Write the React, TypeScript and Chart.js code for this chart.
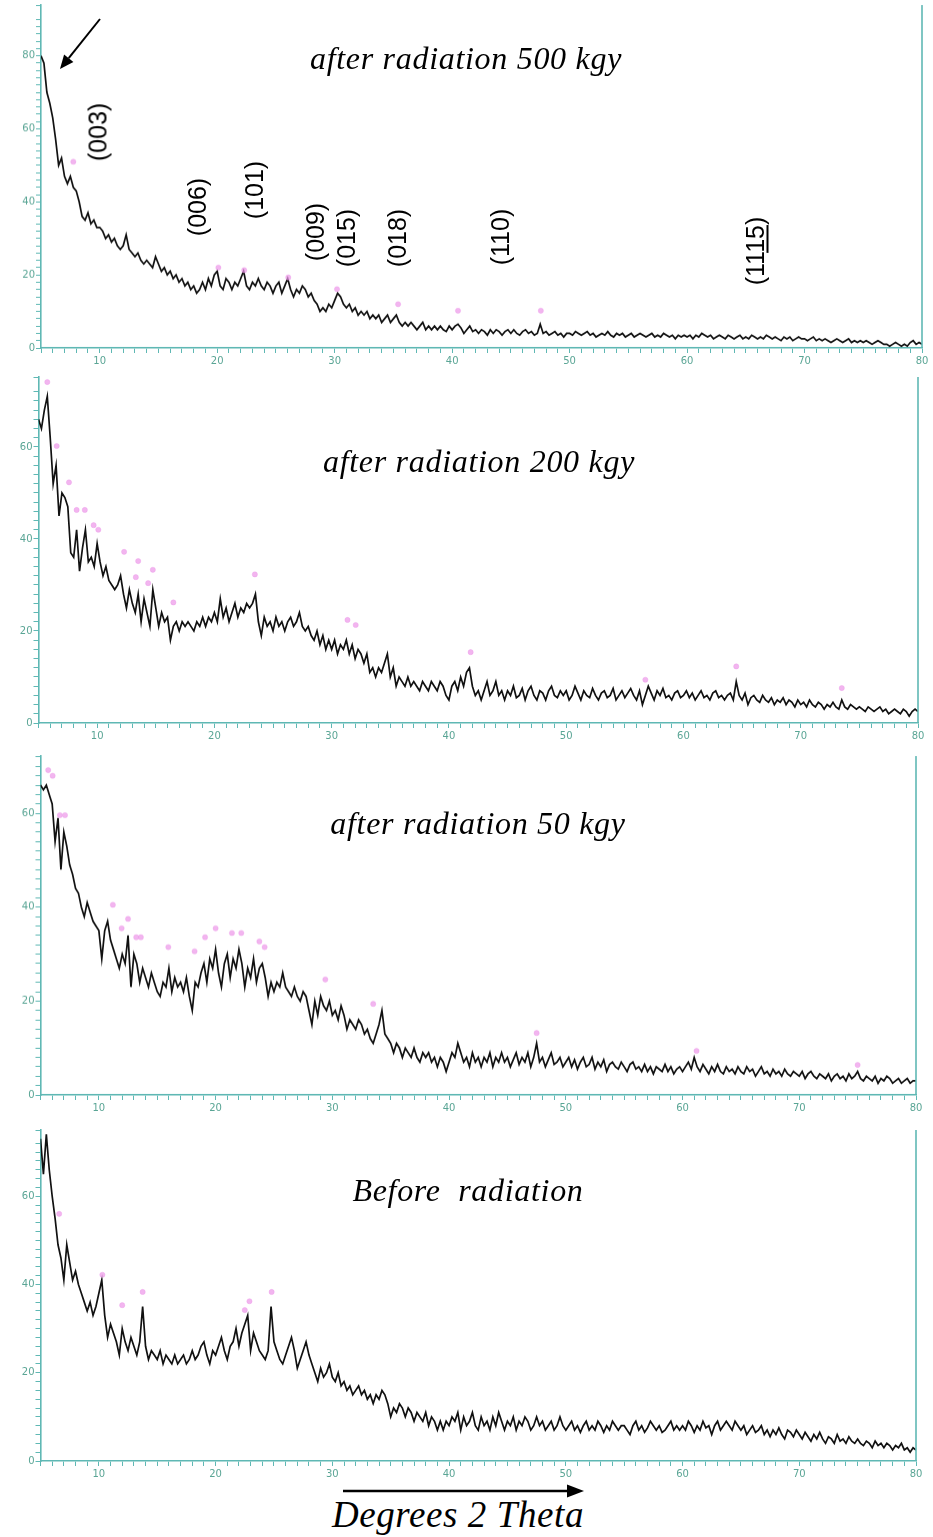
import React, { useEffect, useRef } from "react";
import { Chart, registerables } from "chart.js";
Chart.register(...registerables);

// ---- data -------------------------------------------------------------
const X_START = 5;
const X_STEP = 0.25;
const X_MIN = 5;
const X_MAX = 80;
const X_TICK_LABELS = [10, 20, 30, 40, 50, 60, 70, 80];
const Y_TICK_LABELS = [0, 20, 40, 60, 80];

const TITLES = ["after radiation 500 kgy", "after radiation 200 kgy", "after radiation 50 kgy", "Before  radiation"];
const AXIS_TITLE = "Degrees 2 Theta";
const HKL_LABELS = ["(003)", "(006)", "(101)", "(009)", "(015)", "(018)", "(110)", "(11", "15", ")"];

// intensities, one value every 0.25 deg from 5 to 80 deg 2θ
const I_500 = [
  80, 78, 70, 67, 63, 57, 50, 52, 47, 45, 47, 44, 43, 40, 36, 35, 37, 34, 35, 33,
  33, 32, 30, 31, 29, 30, 28, 27, 28, 31, 27, 26, 25, 26, 24, 23, 24, 23, 22, 25,
  23, 21, 22, 20, 21, 19, 20, 18, 19, 17, 18, 16, 17, 15, 16, 18, 16, 19, 17, 20,
  21, 17, 16, 19, 18, 16, 18, 17, 19, 21, 17, 16, 18, 17, 19, 17, 16, 18, 17, 15,
  17, 18, 15, 17, 19, 16, 14, 16, 15, 17, 16, 14, 15, 13, 12, 10, 11, 10, 12, 11,
  13, 15, 14, 12, 11, 12, 10, 11, 9, 10, 9, 10, 8, 9, 8, 9, 7, 8, 9, 7,
  8, 9, 7, 6, 7, 6, 7, 6, 5, 6, 7, 5, 6, 5, 6, 5, 6, 5, 4.5, 6,
  5, 6, 6.5, 5.5, 4, 5, 6, 4.5, 5, 4, 5, 4.5, 3.5, 5, 4, 5, 4.5, 3.5, 4.5, 5,
  4, 5, 4, 3.5, 4.5, 5, 4, 4.5, 3.5, 4, 6.5, 4, 4.5, 3.5, 4, 4.5, 3.5, 4, 3, 4,
  4, 3.5, 4.5, 4, 3.5, 4, 4.5, 3.5, 4, 3, 3.5, 4, 3.5, 4.5, 3.5, 3, 4, 3.5, 4, 3,
  3.5, 4, 3, 3.5, 4, 3.5, 3, 3.5, 4, 3, 3.5, 3, 4, 3.5, 3, 3.5, 2.5, 3.5, 3, 3.5,
  3, 3.5, 2.5, 3.5, 3, 4, 3.5, 3, 3.5, 2.5, 3, 3.5, 3, 2.5, 3.5, 3, 2.5, 3, 3.5, 2.5,
  3, 2.5, 3.5, 3, 2.5, 3, 2.5, 3.5, 3, 2.5, 3, 2.5, 2, 3, 2.5, 3, 2, 2.5, 3, 2.5,
  2.5, 2, 2.5, 3, 2, 2.5, 2, 2.5, 2, 1.5, 2, 2.5, 2, 1.5, 2, 2.5, 1.5, 2, 1.5, 2,
  1.5, 2, 1.5, 1, 1.5, 2, 1.5, 1, 1, 0.5, 1, 1.5, 1, 0.5, 1, 0.5, 1.5, 2, 1, 1.5,
  1,
];

const I_200 = [
  66, 64, 68, 71, 62, 52, 56, 45, 50, 49, 47, 37, 36, 42, 33, 38, 42, 35, 36, 34,
  39, 35, 32, 34, 31, 30, 29, 30, 32, 28, 25, 29, 26, 24, 28, 22, 27, 24, 21, 29,
  25, 21, 24, 22, 23, 18, 21, 22, 20, 22, 21, 22, 21, 20, 22, 21, 23, 21, 23, 22,
  24, 22, 27, 23, 25, 22, 24, 26, 23, 25, 24, 26, 25, 26, 28, 22, 19, 23, 21, 22,
  20, 23, 21, 22, 20, 22, 23, 21, 22, 24, 21, 20, 21, 19, 18, 20, 17, 19, 16, 18,
  16, 18, 15, 17, 16, 18, 15, 17, 14, 16, 15, 13, 15, 11, 12, 10, 12, 11, 13, 15,
  10, 12, 8, 10, 9, 8, 10, 8, 9, 8, 7, 9, 8, 7, 9, 8, 7, 9, 8, 6,
  5, 8, 9, 7, 10, 8, 11, 12, 8, 6, 7, 5, 7, 9, 6, 7, 9, 6, 7, 5,
  7, 6, 8, 5.5, 6, 7.5, 5, 7, 8, 6, 5, 7, 6.5, 5, 7, 8, 6, 5.5, 7, 6,
  7, 5, 6, 8, 6.5, 5, 7, 6, 5.5, 7.5, 6, 5, 6.5, 7, 5.5, 6, 7.5, 5, 6, 7,
  5.5, 6.5, 7.5, 6, 5, 7, 4, 6, 8, 6.5, 5, 7, 6, 7.5, 5.5, 6, 5, 6.5, 7, 5.5,
  6, 7, 5.5, 6.5, 5, 6, 7, 5.5, 6, 5, 6.5, 7, 5.5, 6, 5, 6, 6.5, 5, 9, 6,
  5, 6.5, 4, 5.5, 6, 5, 4.5, 6, 5, 4.5, 5.5, 4, 5, 4.5, 5.5, 4, 5, 4.5, 3.5, 5,
  4, 4.5, 3.5, 5, 4, 3.5, 4.5, 4, 3, 4, 3.5, 4.5, 3.5, 3, 5, 3.5, 3, 4, 3.5, 3,
  3.5, 3, 2.5, 3.5, 3, 2.5, 3, 3.5, 2.5, 3, 2, 2.5, 3, 2.5, 2, 3, 2.5, 1.5, 2.5, 3,
  2.5,
];

const I_50 = [
  66, 65, 66, 64, 62, 54, 59, 48, 56, 53, 49, 47, 44, 43, 40, 38, 41, 39, 37, 36,
  35, 29, 35, 37, 33, 31, 29, 27, 30, 28, 34, 23, 30, 28, 24, 27, 25, 23, 26, 24,
  22, 21, 24, 23, 27, 22, 25, 23, 24, 22, 25, 21, 18, 24, 23, 26, 28, 24, 29, 27,
  31, 26, 23, 28, 30, 25, 29, 27, 31, 28, 23, 27, 25, 29, 24, 27, 28, 25, 21, 24,
  22, 24, 23, 26, 23, 22, 21, 23, 21, 20, 22, 21, 18, 15, 20, 17, 21, 19, 18, 20,
  17, 18, 16, 19, 17, 14, 16, 15, 14, 16, 15, 13, 14, 12, 11, 13, 15, 18, 13, 12,
  11, 9, 11, 10, 8, 10, 9, 8, 10, 8, 7, 9, 8, 9, 7, 8, 6, 8, 7, 5,
  7, 9, 8, 11, 9, 7, 8, 6, 9, 7, 8, 6, 8, 7, 9, 6, 8, 7, 9, 7,
  8, 6, 7.5, 9, 6.5, 8, 7, 9, 6, 8, 11, 7, 8, 6, 7.5, 9, 6.5, 7, 8, 6,
  7, 8, 6, 7.5, 5.5, 7, 8, 6, 6.5, 8, 5.5, 7, 6, 7.5, 5, 6.5, 7, 6, 5.5, 7,
  6, 5, 6.5, 7, 5.5, 6, 5, 6.5, 5, 6, 4.5, 6, 5.5, 5, 6.5, 5, 6, 4.5, 5.5, 6,
  5, 6, 7, 5.5, 8, 6, 5, 6.5, 5.5, 4.5, 6, 5, 6.5, 5, 4.5, 6, 5, 5.5, 4.5, 6,
  5, 4.5, 6, 5, 5.5, 4, 5, 6, 4.5, 5, 4, 5.5, 4.5, 5, 4, 5.5, 4.5, 4, 5, 4.5,
  4, 5, 3.5, 4.5, 5, 4, 3.5, 4.5, 4, 3.5, 4.5, 3, 4, 4.5, 3.5, 4, 3, 4.5, 3.5, 4,
  5, 3.5, 3, 4, 3.5, 3, 4, 2.5, 3.5, 3, 4, 3.5, 2.5, 3, 3.5, 2.5, 3, 3.5, 2.5, 3,
  3,
];

const I_0 = [
  73, 65, 74, 66, 60, 55, 49, 46, 41, 49, 45, 41, 43, 40, 38, 36, 34, 36, 33, 35,
  38, 41, 33, 28, 31, 29, 27, 24, 30, 27, 25, 28, 26, 24, 27, 35, 26, 23, 25, 24,
  23, 25, 22, 24, 23, 22, 24, 22, 23, 24, 22, 23, 25, 23, 24, 26, 27, 24, 22, 25,
  24, 26, 28, 25, 23, 26, 27, 30, 26, 29, 31, 33, 25, 29, 27, 25, 24, 23, 25, 35,
  27, 25, 23, 22, 24, 26, 28, 25, 21, 23, 25, 27, 24, 22, 20, 18, 21, 19, 20, 22,
  19, 18, 20, 17, 18, 16, 17, 15, 16, 17, 15, 16, 14, 15, 13, 15, 14, 16, 15, 13,
  10, 12, 11, 13, 12, 10, 12, 11, 9, 11, 10, 9, 11, 8, 10, 9, 7, 9, 7, 9,
  8, 10, 9, 11, 7, 10, 8, 9, 11, 8, 7, 10, 8, 9, 7, 10, 8, 11, 9, 7,
  9, 8, 10, 7, 9, 8, 10, 9, 7, 8, 10, 8, 9, 7, 8, 9, 7, 8, 10, 8,
  7, 8, 9, 7, 8, 6.5, 8, 9, 7, 8, 7, 9, 8, 6.5, 8, 7, 9, 8, 7, 8,
  8, 7, 6, 8, 9, 7, 8, 6.5, 7.5, 9, 8, 7, 8, 6.5, 7, 8, 9, 7, 8, 7,
  8, 7, 9, 8, 6.5, 8, 7, 9, 7.5, 8, 6, 8, 9, 7, 8, 9, 8, 7, 9, 8,
  7, 8, 6, 7, 8, 6.5, 7, 8, 6, 7, 5.5, 7, 6, 7.5, 6, 5, 7, 6.5, 5.5, 7,
  6, 5, 6.5, 5.5, 4.5, 6, 5, 6.5, 5, 4, 5.5, 5, 4, 6, 4.5, 5, 4, 5.5, 4.5, 4,
  5, 4, 3.5, 4.5, 4, 3, 4.5, 3.5, 4, 3, 4, 3.5, 2.5, 3.5, 3, 4, 2.5, 3, 2, 3,
  2.5,
];

// pink peak markers
const M500_X = [7.75, 20.1, 22.3, 26.05, 30.2, 35.4, 40.5, 47.55];
const M500_Y = [51, 22, 21.3, 19.3, 16.1, 12, 10.2, 10.2];
const M200_X = [5.75, 6.55, 7.6, 8.25, 8.95, 9.7, 10.1, 12.3, 13.5, 14.75, 13.3, 14.35, 16.5, 23.45, 31.35, 32.05, 41.85, 56.75, 64.5, 73.5];
const M200_Y = [74.1, 60.2, 52.3, 46.3, 46.3, 43, 42, 37.2, 35.2, 33.3, 31.7, 30.4, 26.2, 32.3, 22.4, 21.3, 15.4, 9.4, 12.3, 7.6];
const M50_X = [5.66, 6.04, 6.66, 7.1, 11.2, 12.5, 11.95, 13.2, 13.6, 15.95, 18.2, 19.1, 20.0, 21.4, 22.2, 23.75, 24.2, 29.4, 33.5, 47.5, 61.2, 75.0];
const M50_Y = [69.2, 68, 59.6, 59.6, 40.5, 37.5, 35.5, 33.6, 33.6, 31.5, 30.6, 33.6, 35.5, 34.5, 34.5, 32.7, 31.5, 24.6, 19.4, 13.2, 9.4, 6.4];
const M0_X = [6.6, 10.3, 12.0, 13.75, 22.5, 22.9, 24.8];
const M0_Y = [56, 42.2, 35.3, 38.3, 34.2, 36.2, 38.3];

// ---- layout -----------------------------------------------------------
const PAGE_W = 933;
const PAGE_H = 1537;
const X_AXIS_H = 22;
const PANELS = [
  { values: I_500, mx: M500_X, my: M500_Y, canvasTop: 0, top: 2, bottom: 347.5, left: 41, right: 922, yMax: 93.9 },
  { values: I_200, mx: M200_X, my: M200_Y, canvasTop: 371, top: 377, bottom: 723, left: 38.5, right: 918, yMax: 75.2 },
  { values: I_50, mx: M50_X, my: M50_Y, canvasTop: 750, top: 756, bottom: 1094.5, left: 40.5, right: 916, yMax: 72.2 },
  { values: I_0, mx: M0_X, my: M0_Y, canvasTop: 1124, top: 1130, bottom: 1461, left: 40.5, right: 916, yMax: 75 },
];

const TITLE_POS = [
  { x: 466, y: 58 },
  { x: 479, y: 461 },
  { x: 478, y: 823 },
  { x: 468, y: 1190 },
];

const HKL_POS = [
  { x: 97.5, y: 132 },
  { x: 197, y: 207 },
  { x: 254, y: 190 },
  { x: 314.5, y: 232 },
  { x: 345.5, y: 238 },
  { x: 396.5, y: 238 },
  { x: 500, y: 236.5 },
];
const HKL_LAST_POS = { x: 755, y: 250.5 };

const TEAL = "#5fb8b4";
const TICK_TEXT = "#5aa595";

const rightBorder = {
  id: "rightBorder",
  afterDraw(chart: any) {
    const { ctx, chartArea: a } = chart;
    ctx.save();
    ctx.strokeStyle = TEAL;
    ctx.lineWidth = 1.6;
    ctx.beginPath();
    ctx.moveTo(a.right, a.top);
    ctx.lineTo(a.right, a.bottom);
    ctx.stroke();
    ctx.restore();
  },
};

function Panel({ cfg }: { cfg: any }) {
  const ref = useRef<HTMLCanvasElement | null>(null);
  const height = cfg.bottom - cfg.canvasTop + X_AXIS_H;
  useEffect(() => {
    if (!ref.current) return;
    const line = cfg.values.map((v: number, i: number) => ({ x: X_START + i * X_STEP, y: v }));
    const marks = cfg.mx.map((x: number, i: number) => ({ x, y: cfg.my[i] }));
    const chart = new Chart(ref.current, {
      type: "line",
      data: {
        datasets: [
          {
            type: "scatter",
            data: marks,
            pointRadius: 2.6,
            pointStyle: "circle",
            backgroundColor: "rgba(236,150,232,0.7)",
            borderColor: "rgba(236,150,232,0.35)",
            borderWidth: 1,
            clip: false,
          } as any,
          {
            type: "line",
            data: line,
            borderColor: "#111",
            borderWidth: 1.7,
            pointRadius: 0,
            tension: 0,
            fill: false,
          },
        ],
      },
      options: {
        responsive: false,
        animation: false,
        devicePixelRatio: 1,
        events: [],
        layout: { padding: { left: 0, right: PAGE_W - cfg.right, top: cfg.top - cfg.canvasTop, bottom: 0 } },
        plugins: { legend: { display: false }, tooltip: { enabled: false } },
        scales: {
          x: {
            type: "linear",
            min: X_MIN,
            max: X_MAX,
            afterFit: (s: any) => {
              s.height = X_AXIS_H;
              s.paddingLeft = 0;
              s.paddingRight = 0;
            },
            ticks: {
              stepSize: 1,
              autoSkip: false,
              maxRotation: 0,
              minRotation: 0,
              padding: 2,
              color: TICK_TEXT,
              font: { family: "DejaVu Sans", size: 10 },
              callback: (v: any) => (X_TICK_LABELS.includes(Math.round(v)) && Math.abs(v - Math.round(v)) < 1e-6 ? String(Math.round(v)) : ""),
            },
            grid: { drawOnChartArea: false, drawTicks: true, tickLength: 5, color: TEAL, lineWidth: 1 },
            border: { display: true, color: TEAL, width: 1.6 },
          },
          y: {
            type: "linear",
            min: 0,
            max: cfg.yMax,
            afterFit: (s: any) => {
              s.width = cfg.left;
              s.paddingTop = 0;
              s.paddingBottom = 0;
            },
            ticks: {
              stepSize: 2,
              autoSkip: false,
              padding: 1,
              color: TICK_TEXT,
              font: { family: "DejaVu Sans", size: 10 },
              callback: (v: any) => (Y_TICK_LABELS.includes(Math.round(v)) && Math.abs(v - Math.round(v)) < 1e-6 ? String(Math.round(v)) : ""),
            },
            grid: { drawOnChartArea: false, drawTicks: true, tickLength: 5, color: TEAL, lineWidth: 1 },
            border: { display: true, color: TEAL, width: 1.6 },
          },
        },
      } as any,
      plugins: [rightBorder],
    });
    return () => chart.destroy();
  }, []);
  return (
    <canvas
      ref={ref}
      width={PAGE_W}
      height={height}
      style={{ position: "absolute", left: 0, top: cfg.canvasTop, width: PAGE_W, height }}
    />
  );
}

const titleStyle: React.CSSProperties = {
  position: "absolute",
  transform: "translate(-50%, -50%)",
  fontFamily: "'Liberation Serif', 'DejaVu Serif', serif",
  fontStyle: "italic",
  fontSize: 32,
  letterSpacing: 0.7,
  whiteSpace: "pre",
  color: "#000",
  lineHeight: 1,
};

const hklStyle: React.CSSProperties = {
  position: "absolute",
  transform: "translate(-50%, -50%) rotate(-90deg)",
  fontFamily: "'Liberation Sans', Arial, sans-serif",
  fontSize: 25,
  whiteSpace: "pre",
  color: "#000",
  lineHeight: 1,
};

export default function App() {
  useEffect(() => {
    document.body.style.margin = "0";
  }, []);
  return (
    <div style={{ position: "absolute", left: 0, top: 0, width: PAGE_W, height: PAGE_H, background: "#fff", overflow: "hidden" }}>
      {PANELS.map((p, i) => (
        <Panel key={i} cfg={p} />
      ))}
      {TITLES.map((t, i) => (
        <div key={"t" + i} style={{ ...titleStyle, left: TITLE_POS[i].x, top: TITLE_POS[i].y }}>
          {t}
        </div>
      ))}
      {HKL_POS.map((p, i) => (
        <div key={"h" + i} style={{ ...hklStyle, left: p.x, top: p.y }}>
          {HKL_LABELS[i]}
        </div>
      ))}
      <div style={{ ...hklStyle, left: HKL_LAST_POS.x, top: HKL_LAST_POS.y }}>
        {HKL_LABELS[7]}
        <span style={{ textDecoration: "underline", textDecorationThickness: 2, textUnderlineOffset: 3 }}>{HKL_LABELS[8]}</span>
        {HKL_LABELS[9]}
      </div>
      <div style={{ ...titleStyle, fontSize: 37, letterSpacing: 0.6, left: 458, top: 1514 }}>{AXIS_TITLE}</div>
      <svg width={PAGE_W} height={PAGE_H} style={{ position: "absolute", left: 0, top: 0, pointerEvents: "none" }}>
        <line x1={100} y1={19} x2={68.7} y2={58.1} stroke="#000" strokeWidth={2} />
        <polygon points="60,69 73.4,61.9 64.1,54.4" fill="#000" />
        <line x1={343} y1={1491} x2={568} y2={1491} stroke="#000" strokeWidth={2.5} />
        <polygon points="584,1491 567,1484.5 567,1497.5" fill="#000" />
      </svg>
    </div>
  );
}
